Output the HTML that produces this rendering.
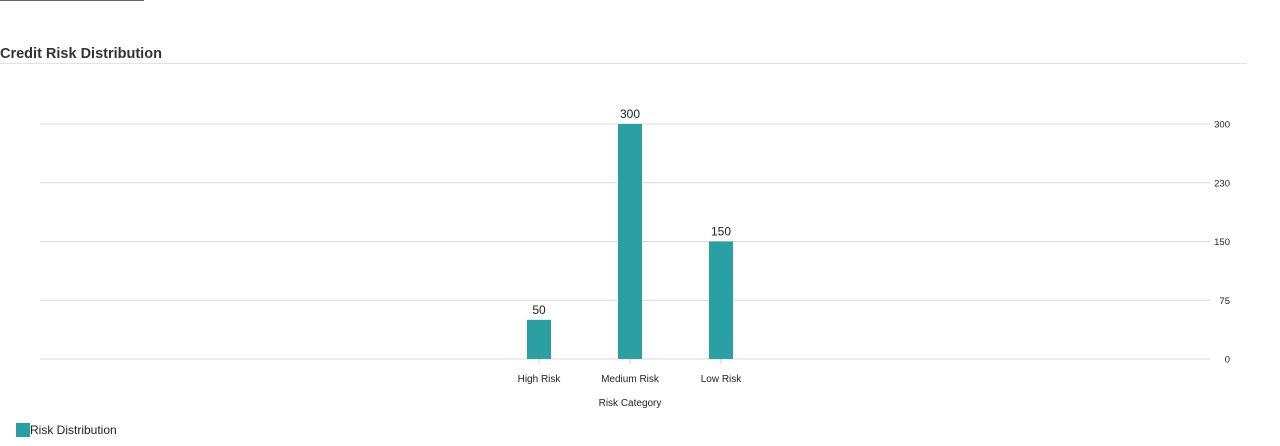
<!DOCTYPE html>
<html><head><meta charset="utf-8"><style>
body{margin:0;width:1280px;height:446px;background:#fff;font-family:"Liberation Sans",sans-serif;overflow:hidden;position:relative}
</style></head><body>
<div style="position:absolute;left:0;top:0;width:144px;height:1px;background:#666"></div>
<div style="position:absolute;left:0;top:46px;font-size:14.5px;font-weight:bold;color:#333">Credit Risk Distribution</div>
<div style="position:absolute;left:0;top:63px;width:1247px;height:1px;background:#e3e3e3"></div>
<svg id="chart" width="1280" height="446" style="position:absolute;left:0;top:0" font-family="Liberation Sans, sans-serif"></svg>
<div style="position:absolute;left:16px;top:423px;font-size:12px;color:#222;display:flex;align-items:center">
<span style="display:inline-block;width:14px;height:14px;background:#2aa0a4"></span><span>Risk Distribution</span></div>
<script>
const categories=["High Risk","Medium Risk","Low Risk"];
const values=[50,300,150];
const tickValues=[0,75,150,225,300];
const tickLabels=["0","75","150","230","300"];
const svg=document.getElementById('chart');
const NS="http://www.w3.org/2000/svg";
const y0=359,yTop=124,yMax=300;
const y=v=>y0-(v/yMax)*(y0-yTop);
const center=630,step=91;
const x=i=>center+(i-(categories.length-1)/2)*step;
function mk(t,a){const e=document.createElementNS(NS,t);for(const k in a)e.setAttribute(k,a[k]);svg.appendChild(e);return e;}
tickValues.forEach((v,i)=>{
 const g=mk('line',{x1:40,x2:1210,y1:y(v),y2:y(v),stroke:'#d9d9d9','stroke-width':1});
 
 
 const t=mk('text',{x:1230,y:y(v)+3.5,'font-size':9.5,fill:'#222','text-anchor':'end'});
 t.textContent=tickLabels[i];
 
 
});
categories.forEach((c,i)=>{
 const cx=x(i);
 const tk=mk('line',{x1:cx,x2:cx,y1:y0,y2:y0+5,stroke:'#e0e0e0','stroke-width':1.5});
 
 
 const b=mk('rect',{x:cx-12,y:y(values[i]),width:24,height:y0-y(values[i]),fill:'#2aa0a4'});
 
 
 const vl=mk('text',{x:cx,y:y(values[i])-6,'font-size':12,fill:'#222','text-anchor':'middle'});
 vl.textContent=values[i];
 
 
 const cl=mk('text',{x:cx,y:382,'font-size':10,fill:'#222','text-anchor':'middle'});
 cl.textContent=c;
 
 
});
const at=mk('text',{x:center,y:406,'font-size':10,fill:'#222','text-anchor':'middle'});
at.textContent="Risk Category";


</script>
</body></html>
